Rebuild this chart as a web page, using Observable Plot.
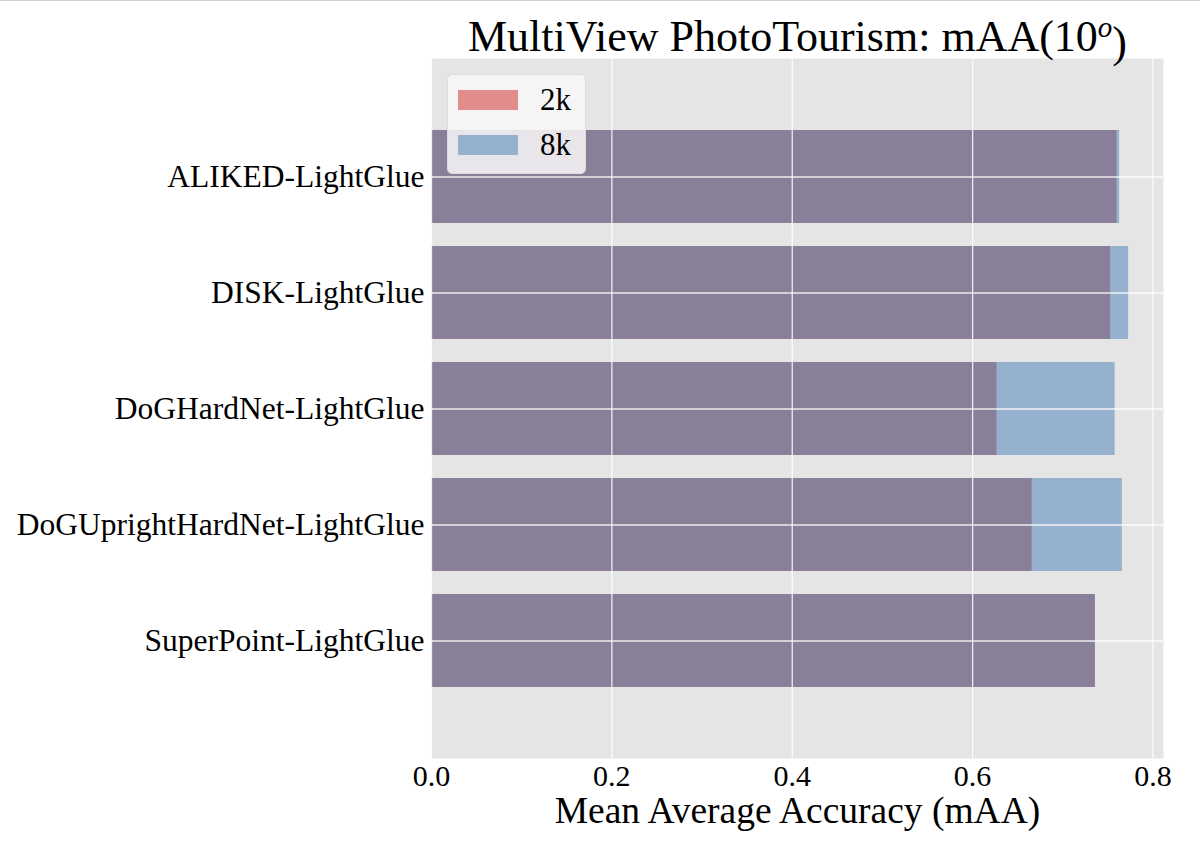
<!DOCTYPE html>
<html>
<head>
<meta charset="utf-8">
<script src="https://cdn.jsdelivr.net/npm/d3@7"></script>
<script src="https://cdn.jsdelivr.net/npm/@observablehq/plot@0.6"></script>
<style>
  html, body { margin: 0; padding: 0; background: #fff; }
  #wrap { position: relative; width: 1200px; height: 855px; border-top: 1px solid #d0d0d0; box-sizing: border-box; }
  #legend { position: absolute; left: 447px; top: 73px; width: 139px; height: 100px; background: rgba(248,248,248,0.85);
            border: 1px solid #dcdcdc; border-radius: 5px; box-sizing: border-box; font-family: "Liberation Serif", serif; font-size: 31px; }
  .row { position: absolute; left: 10px; display: flex; align-items: center; }
  .sw { width: 60px; height: 20px; margin-right: 22px; }
</style>
</head>
<body>
<div id="wrap">
  <div id="chart"></div>
  <div id="legend">
    <div class="row" style="top:7px"><div class="sw" style="background:#e08d8c"></div><span>2k</span></div>
    <div class="row" style="top:52px"><div class="sw" style="background:#96b1cd"></div><span>8k</span></div>
  </div>
</div>
<script>
const methods = ["ALIKED-LightGlue", "DISK-LightGlue", "DoGHardNet-LightGlue", "DoGUprightHardNet-LightGlue", "SuperPoint-LightGlue"];
const mAA2k = [0.760, 0.753, 0.627, 0.666, 0.736];
const mAA8k = [0.763, 0.773, 0.758, 0.766, 0.736];
const xTicks = [0, 0.2, 0.4, 0.6, 0.8];

const rows = methods.map((m, i) => ({method: m, k2: mAA2k[i], k8: mAA8k[i], both: Math.min(mAA2k[i], mAA8k[i])}));
const xMax = d3.max([...mAA2k, ...mAA8k]) * 1.05;

const font = "Liberation Serif, serif";
const chart = Plot.plot({
  width: 1200,
  height: 854,
  marginTop: 57,
  marginLeft: 431,
  marginRight: 37,
  marginBottom: 97,
  style: {fontFamily: font, fontSize: "30px", color: "#000", background: "transparent"},
  x: {domain: [0, xMax], ticks: xTicks, tickFormat: d3.format(".1f"), label: null},
  y: {domain: methods, paddingInner: 0.2, paddingOuter: 0.6, label: null},
  marks: [
    Plot.frame({fill: "#e5e5e5", stroke: null}),
    Plot.barX(rows, {y: "method", x: "k2", fill: "#e08d8c"}),
    Plot.barX(rows, {y: "method", x: "k8", fill: "#96b1cd"}),
    Plot.barX(rows, {y: "method", x: "both", fill: "#8a7f99"}),
    Plot.gridX(xTicks, {stroke: "#fff", strokeOpacity: 0.85, strokeWidth: 1.3}),
    Plot.gridY(methods, {stroke: "#fff", strokeOpacity: 0.85, strokeWidth: 1.3}),
    Plot.axisX(xTicks, {tickSize: 0, tickPadding: 6, fontSize: 30, tickFormat: d3.format(".1f"), label: null}),
    Plot.axisY(methods, {tickSize: 0, tickPadding: 7, fontSize: 31.5, label: null}),
    Plot.text(["Mean Average Accuracy (mAA)"], {frameAnchor: "bottom", dy: 64, fontSize: 37.5, fill: "#000"}),
    Plot.text(["MultiView PhotoTourism: mAA(10"], {frameAnchor: "top", lineAnchor: "bottom", dy: -8, fontSize: 44, fill: "#000"})
  ]
});
document.getElementById("chart").appendChild(chart);

// superscript "o" for the title
const svg = d3.select(chart);
const titleText = svg.selectAll("text").filter(function() { return this.textContent === "MultiView PhotoTourism: mAA(10"; });
titleText.append("tspan").attr("dy", "-0.45em").attr("font-size", "29px").attr("font-style", "italic").text("o");
titleText.append("tspan").attr("dy", "0.45em").text(")");
</script>
</body>
</html>
